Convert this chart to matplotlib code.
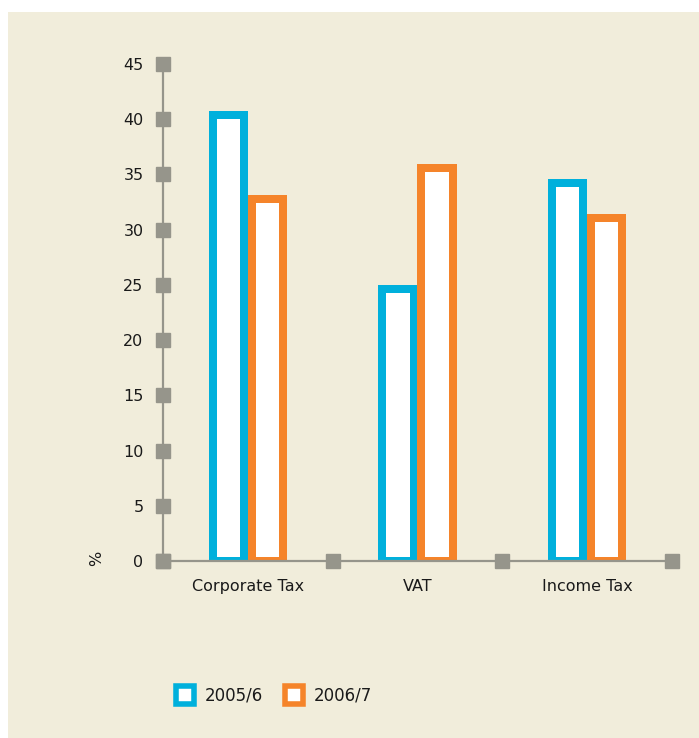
import matplotlib
matplotlib.use("Agg")
import matplotlib.pyplot as plt
from matplotlib.patches import Rectangle

categories = ["Corporate Tax", "VAT", "Income Tax"]
series_names = ["2005/6", "2006/7"]
values_2005 = [40.4, 24.6, 34.2]
values_2006 = [32.8, 35.6, 31.1]
y_ticks = [0, 5, 10, 15, 20, 25, 30, 35, 40, 45]

BLUE = "#00b0dc"
ORANGE = "#f5842a"
GREY = "#96958b"
PANEL = "#f1eddb"

W, H = 699, 738
fig = plt.figure(figsize=(W / 100, H / 100), dpi=100, facecolor="white")
plt.rcParams["font.family"] = ["DejaVu Sans"]

# cream panel behind the chart
fig.add_artist(Rectangle((8 / W, 0), 1, 1 - 12 / H, transform=fig.transFigure,
                         facecolor=PANEL, edgecolor="none", zorder=0))

ax = fig.add_axes([163 / W, 1 - 561 / H, (672 - 163) / W, (561 - 64) / H])
ax.set_facecolor("none")
ax.set_xlim(-0.5, 2.5)
ax.set_ylim(0, 45)

x = list(range(len(categories)))
width = 0.183
offset = 0.115
lw = 5.76
ax.bar([i - offset for i in x], values_2005, width, facecolor="white",
       edgecolor=BLUE, linewidth=lw, zorder=2)
ax.bar([i + offset for i in x], values_2006, width, facecolor="white",
       edgecolor=ORANGE, linewidth=lw, zorder=2)

for s in ax.spines.values():
    s.set_visible(False)

# axis lines with square markers
ax.plot([-0.5, -0.5], [0, 45], color=GREY, lw=1.6, clip_on=False, zorder=3)
ax.plot([-0.5, 2.53], [0, 0], color=GREY, lw=1.6, clip_on=False, zorder=3)
ax.plot([-0.5] * len(y_ticks), y_ticks, "s", color=GREY, ms=9.4,
        clip_on=False, zorder=4)
ax.plot([-0.5, 0.5, 1.5, 2.5], [0] * 4, "s", color=GREY, ms=9.4,
        clip_on=False, zorder=4)

ax.set_yticks(y_ticks)
ax.set_yticklabels([str(t) for t in y_ticks], fontsize=11.5, color="#1a1a1a")
ax.set_xticks(x)
ax.set_xticklabels(categories, fontsize=11.5, color="#1a1a1a")
ax.tick_params(axis="y", length=0, pad=14)
ax.tick_params(axis="x", length=0, pad=13)

fig.text(97 / W, 1 - 558 / H, "%", rotation=90, fontsize=11.5,
         ha="center", va="center", color="#1a1a1a")

# legend
for (x0, name, col) in [(173, series_names[0], BLUE), (282, series_names[1], ORANGE)]:
    fig.add_artist(Rectangle(((x0 + 2.5) / W, 1 - 704 / H), 18 / W, 18 / H,
                             transform=fig.transFigure, facecolor="white",
                             edgecolor=col, linewidth=4, zorder=5))
    fig.text((x0 + 32) / W, 1 - 696 / H, name, fontsize=12, ha="left",
             va="center", color="#1a1a1a")

fig.savefig("out.png", dpi=100, facecolor="white")
